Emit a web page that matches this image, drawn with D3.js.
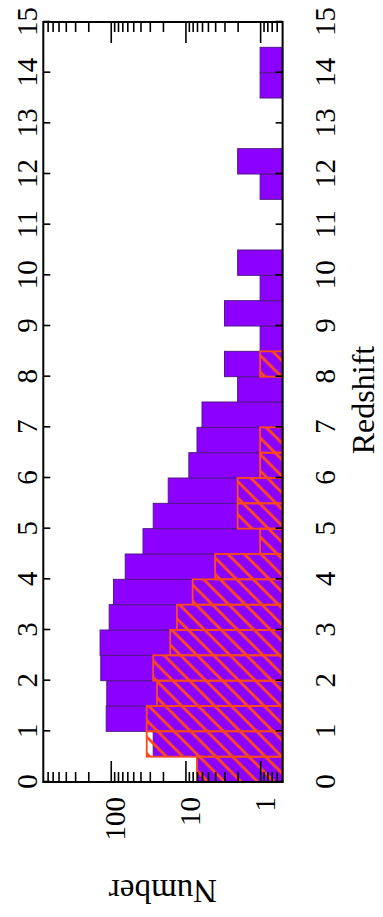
<!DOCTYPE html>
<html>
<head>
<meta charset="utf-8">
<script src="https://cdn.jsdelivr.net/npm/d3@7"></script>
<style>
  body { margin: 0; background: #fff; }
  svg { display: block; }
  .tick text { font-family: "Liberation Serif", "Times New Roman", serif; font-size: 29px; fill: #000; }
  .tick line { stroke: #000; stroke-width: 1.6; }
  .title { font-family: "Liberation Serif", "Times New Roman", serif; fill: #000; }
</style>
</head>
<body>
<div id="chart"></div>
<script>
// histogram bins (redshift, bin width 0.5)
var binStart = d3.range(0, 15, 0.5);
// all objects (purple)
var allCounts = [7, 27, 115, 113, 136, 139, 105, 92, 64, 37,
                 27, 17, 9, 7, 6, 2, 3, 1, 3, 1,
                 2, 0, 0, 1, 2, 0, 0, 1, 1, 0];
// sub-sample (hatched)
var subCounts = [7, 33, 33, 24, 27, 16, 13, 8, 4, 1,
                 2, 2, 1, 1, 0, 0, 1, 0, 0, 0,
                 0, 0, 0, 0, 0, 0, 0, 0, 0, 0];
var redshiftTicks = d3.range(0, 16);
var numberTicks = [1, 10, 100];
var numberMinor = [0.6, 0.7, 0.8, 0.9, 2, 3, 4, 5, 6, 7, 8, 9,
                   20, 30, 40, 50, 60, 70, 80, 90, 200, 300, 400, 500, 600, 700];

var svgWidth = 383;
var svgHeight = 917;

// chart is drawn normally then turned -90 degrees
var W = 760;    // redshift axis length
var H = 239.3;  // number axis length

var svg = d3.select('#chart')
    .append('svg')
    .attr('width', svgWidth)
    .attr('height', svgHeight);

// hatch pattern (in the rotated frame '/' becomes '\')
var s = 16.5;
svg.append('defs')
    .append('pattern')
    .attr('id', 'hatch')
    .attr('patternUnits', 'userSpaceOnUse')
    .attr('width', s)
    .attr('height', s)
    .append('path')
    .attr('d', `M0,${s} L${s},0 M${-s/4},${s/4} L${s/4},${-s/4} M${3*s/4},${5*s/4} L${5*s/4},${3*s/4}`)
    .attr('stroke', '#ff4a1c')
    .attr('stroke-width', 2.8);

var g = svg.append('g')
    .attr('transform', 'translate(43.3, 782) rotate(-90)');

var x = d3.scaleLinear().domain([0, 15]).range([0, W]);
var y = d3.scaleLog().domain([0.5, 800]).range([H, 0]);

var allData = binStart.map((b, i) => ({ z: b, n: allCounts[i] })).filter(d => d.n > 0);
var subData = binStart.map((b, i) => ({ z: b, n: subCounts[i] })).filter(d => d.n > 0);

// purple bars
g.selectAll('rect.all')
    .data(allData)
    .enter()
    .append('rect')
    .attr('class', 'all')
    .attr('x', d => x(d.z))
    .attr('width', d => x(d.z + 0.5) - x(d.z))
    .attr('y', d => y(d.n))
    .attr('height', d => H - y(d.n))
    .attr('fill', '#8c00ff')
    .attr('stroke', '#55168a')
    .attr('stroke-width', 1);

// hatched bars
g.selectAll('rect.sub')
    .data(subData)
    .enter()
    .append('rect')
    .attr('class', 'sub')
    .attr('x', d => x(d.z))
    .attr('width', d => x(d.z + 0.5) - x(d.z))
    .attr('y', d => y(d.n))
    .attr('height', d => H - y(d.n))
    .attr('fill', 'url(#hatch)')
    .attr('stroke', '#ff4a1c')
    .attr('stroke-width', 1.8);

// redshift axes (right and left of the picture)
var axBottom = g.append('g')
    .attr('transform', `translate(0, ${H})`)
    .call(d3.axisBottom(x).tickValues(redshiftTicks).tickSize(-7).tickFormat(d3.format('d')));
axBottom.selectAll('text').attr('y', 52.7).attr('dy', 0);

var axTop = g.append('g')
    .call(d3.axisTop(x).tickValues(redshiftTicks).tickSize(-7).tickFormat(d3.format('d')));
axTop.selectAll('text').attr('y', -6).attr('dy', 0);

// number axes (bottom and top of the picture)
var axLeft = g.append('g')
    .call(d3.axisLeft(y).tickValues(numberTicks).tickSize(-21).tickFormat(d3.format('d')));
axLeft.selectAll('text').attr('x', -15).attr('dy', '0.49em');

g.append('g')
    .call(d3.axisLeft(y).tickValues(numberMinor).tickSize(-10).tickFormat(''));

g.append('g')
    .attr('transform', `translate(${W}, 0)`)
    .call(d3.axisRight(y).tickValues(numberTicks).tickSize(-21).tickFormat(''));

g.append('g')
    .attr('transform', `translate(${W}, 0)`)
    .call(d3.axisRight(y).tickValues(numberMinor).tickSize(-10).tickFormat(''));

g.selectAll('.domain').remove();

// frame
g.append('rect')
    .attr('width', W)
    .attr('height', H)
    .attr('fill', 'none')
    .attr('stroke', '#000')
    .attr('stroke-width', 2);

// axis titles
g.append('text')
    .attr('class', 'title')
    .attr('x', 382)
    .attr('y', H + 91)
    .attr('text-anchor', 'middle')
    .style('font-size', '32px')
    .text('Redshift');

g.append('text')
    .attr('class', 'title')
    .attr('transform', `translate(-98, ${H / 2}) rotate(-90)`)
    .attr('text-anchor', 'middle')
    .style('font-size', '33px')
    .text('Number');
</script>
</body>
</html>
